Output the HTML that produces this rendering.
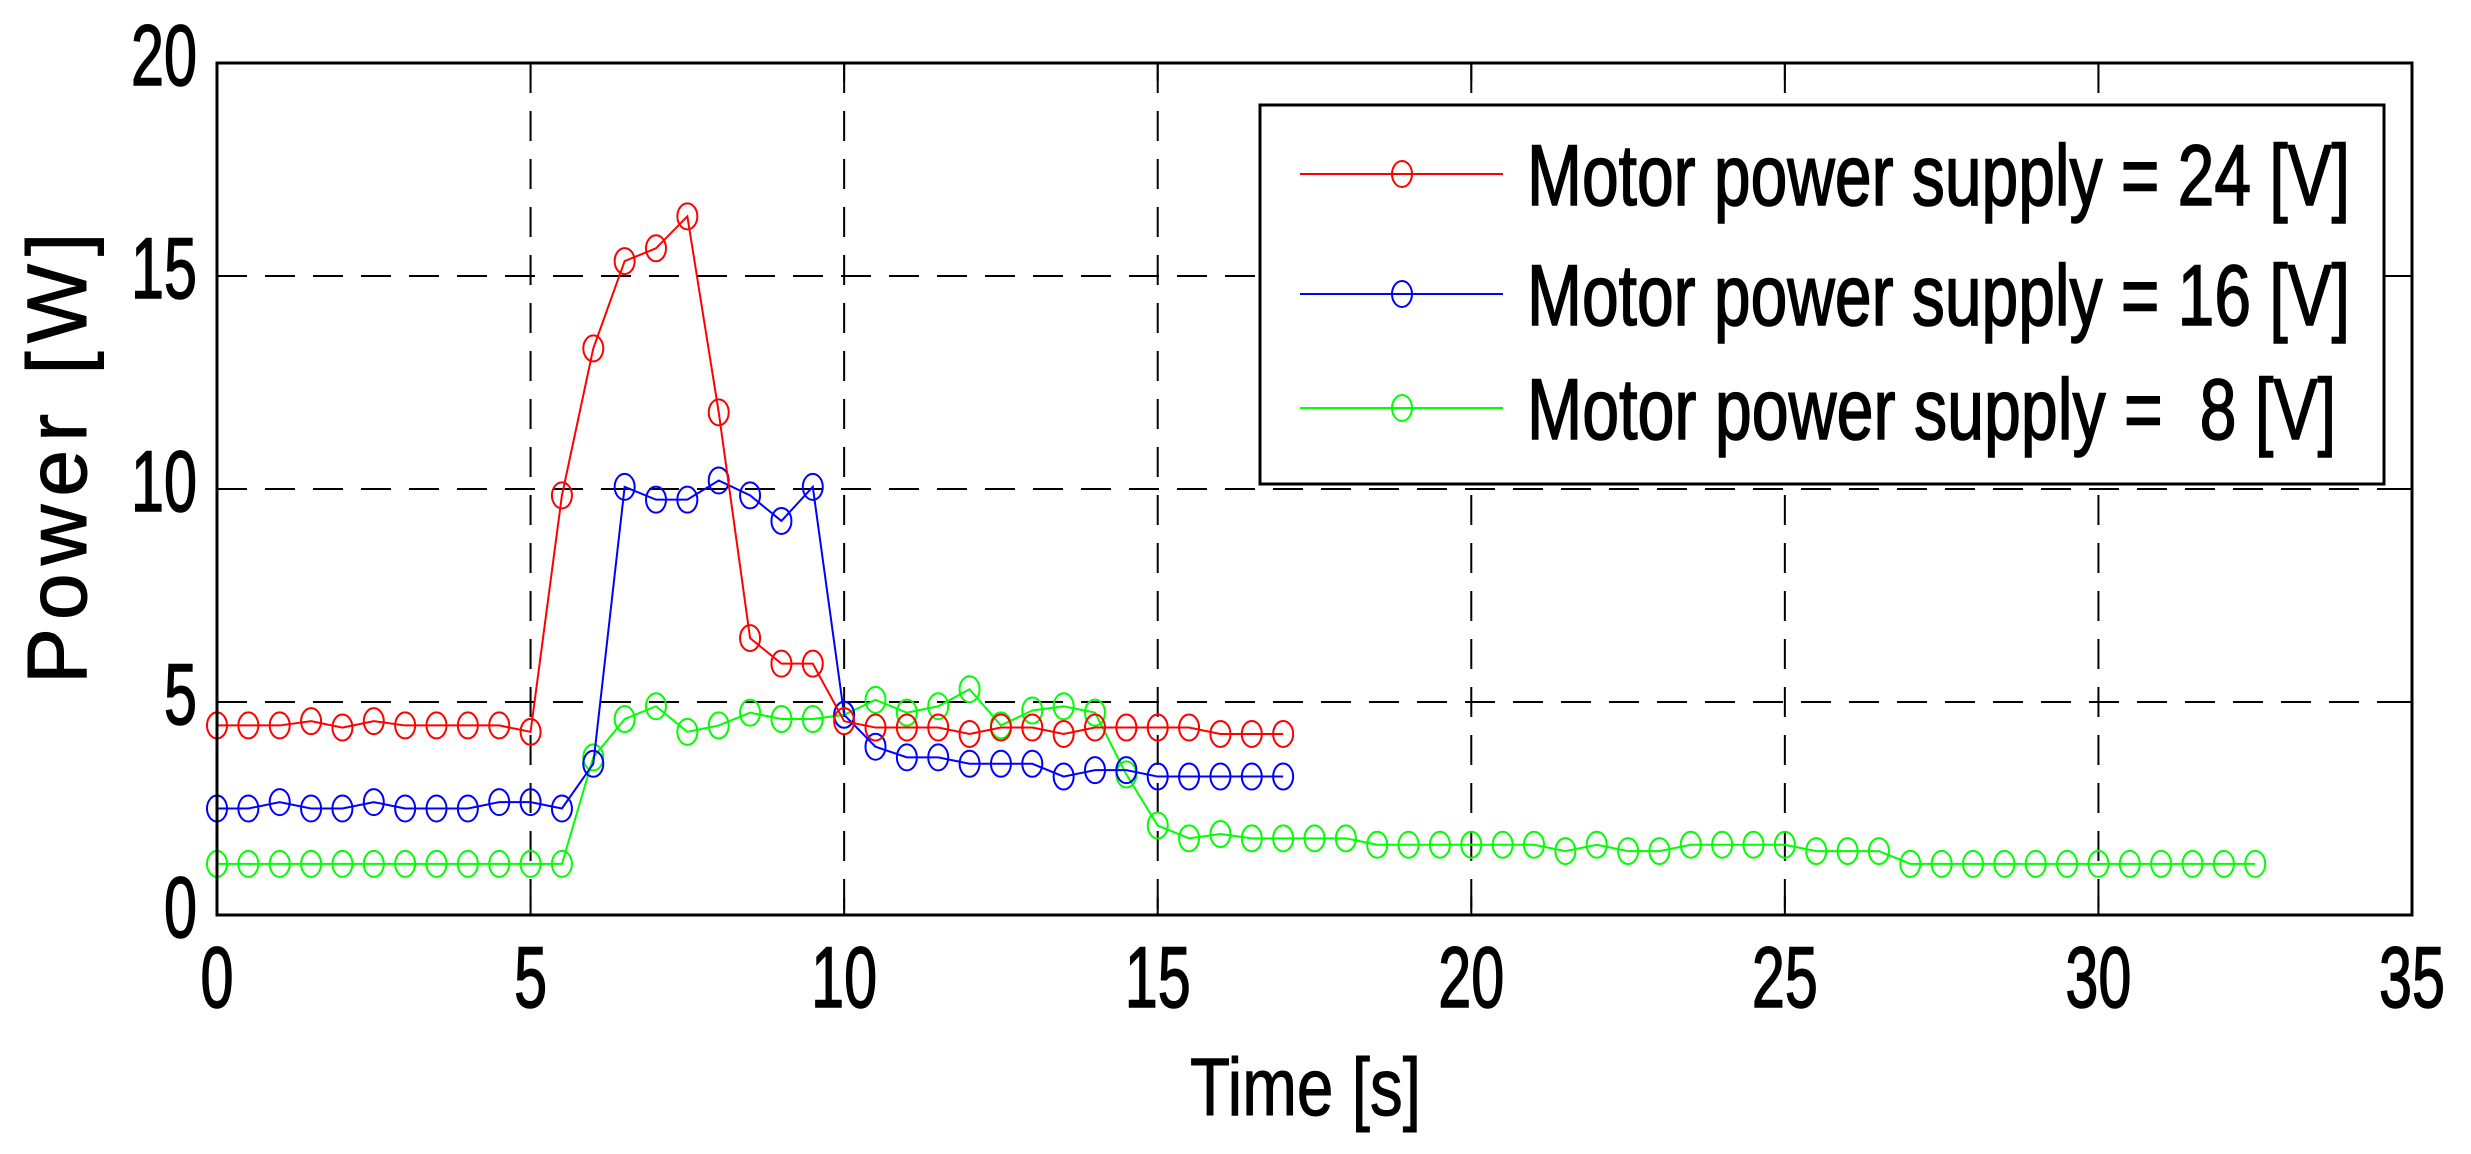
<!DOCTYPE html>
<html><head><meta charset="utf-8"><style>html,body{margin:0;padding:0;background:#fff}svg{display:block}</style></head>
<body>
<svg id="s" width="2471" height="1154" xmlns="http://www.w3.org/2000/svg" font-family="'Liberation Sans', Arial, sans-serif">
<rect width="2471" height="1154" fill="#fff"/>
<g id="grid" stroke="#000" stroke-width="2" stroke-dasharray="30,18" fill="none"></g>
<g id="series" fill="none" stroke-width="2"></g>
<rect x="217" y="63" width="2195" height="852" fill="none" stroke="#000" stroke-width="3"/>
<g id="ticks" stroke="#000" stroke-width="2"></g>
<g id="labels" font-size="86" fill="#000" stroke="#000" stroke-width="1.5"></g>
<text x="1190" y="1115" font-size="82" stroke="#000" stroke-width="1" textLength="231" lengthAdjust="spacingAndGlyphs">Time [s]</text>
<text transform="translate(86,684) rotate(-90)" font-size="84" stroke="#000" stroke-width="1" letter-spacing="8">Power [W]</text>
<g id="legend">
<rect x="1260" y="105" width="1124" height="379" fill="#fff" stroke="#000" stroke-width="3"/>
<line x1="1300" y1="174" x2="1503" y2="174" stroke="#f00" stroke-width="2"/>
<ellipse cx="1402" cy="174" rx="10" ry="13" fill="none" stroke="#f00" stroke-width="2"/>
<line x1="1300" y1="294" x2="1503" y2="294" stroke="#00f" stroke-width="2"/>
<ellipse cx="1402" cy="294" rx="10" ry="13" fill="none" stroke="#00f" stroke-width="2"/>
<line x1="1300" y1="408" x2="1503" y2="408" stroke="#0f0" stroke-width="2"/>
<ellipse cx="1402" cy="408" rx="10" ry="13" fill="none" stroke="#0f0" stroke-width="2"/>
<g stroke="#000" stroke-width="1.5">
<text x="1527" y="205" font-size="86" textLength="823" lengthAdjust="spacingAndGlyphs">Motor power supply = 24 [V]</text>
<text x="1527" y="325" font-size="86" textLength="823" lengthAdjust="spacingAndGlyphs">Motor power supply = 16 [V]</text>
<text x="1527" y="439" font-size="86" textLength="809" lengthAdjust="spacingAndGlyphs" xml:space="preserve">Motor power supply =  8 [V]</text>
</g>
</g>
</svg>
<script>
const NS="http://www.w3.org/2000/svg";
const X=v=>217+v*2195/35, Y=v=>915-v*42.6;
function el(p,t,a,txt){const e=document.createElementNS(NS,t);for(const k in a)e.setAttribute(k,a[k]);if(txt!==undefined)e.textContent=txt;p.appendChild(e);return e;}
const g=document.getElementById('grid'),tk=document.getElementById('ticks'),lb=document.getElementById('labels');
for(let i=5;i<=30;i+=5){el(g,'line',{x1:X(i),y1:63,x2:X(i),y2:915});}
for(let i=5;i<=15;i+=5){el(g,'line',{x1:217,y1:Y(i),x2:2412,y2:Y(i)});}
for(let i=0;i<=35;i+=5){el(tk,'line',{x1:X(i),y1:915,x2:X(i),y2:897});el(tk,'line',{x1:X(i),y1:63,x2:X(i),y2:81});
 const s=String(i);el(lb,'text',{x:X(i),y:1007,'text-anchor':'middle',textLength:s.length*33,lengthAdjust:'spacingAndGlyphs'},s);}
for(let i=0;i<=20;i+=5){el(tk,'line',{x1:217,y1:Y(i),x2:235,y2:Y(i)});el(tk,'line',{x1:2412,y1:Y(i),x2:2394,y2:Y(i)});
 const s=String(i);el(lb,'text',{x:197,y:Y(i)+22,'text-anchor':'end',textLength:s.length*33,lengthAdjust:'spacingAndGlyphs'},s);}
const red=[4.45,4.45,4.45,4.55,4.4,4.55,4.45,4.45,4.45,4.45,4.3,9.85,13.3,15.35,15.65,16.4,11.8,6.5,5.9,5.9,4.55,4.4,4.4,4.4,4.25,4.4,4.4,4.25,4.4,4.4,4.4,4.4,4.25,4.25,4.25];
const blue=[2.5,2.5,2.65,2.5,2.5,2.65,2.5,2.5,2.5,2.65,2.65,2.5,3.55,10.05,9.75,9.75,10.2,9.85,9.25,10.05,4.7,3.95,3.7,3.7,3.55,3.55,3.55,3.25,3.4,3.4,3.25,3.25,3.25,3.25,3.25];
const green=[1.2,1.2,1.2,1.2,1.2,1.2,1.2,1.2,1.2,1.2,1.2,1.2,3.7,4.6,4.9,4.3,4.45,4.75,4.6,4.6,4.7,5.05,4.75,4.9,5.3,4.45,4.8,4.9,4.75,3.3,2.1,1.8,1.9,1.8,1.8,1.8,1.8,1.65,1.65,1.65,1.65,1.65,1.65,1.5,1.65,1.5,1.5,1.65,1.65,1.65,1.65,1.5,1.5,1.5,1.2,1.2,1.2,1.2,1.2,1.2,1.2,1.2,1.2,1.2,1.2,1.2];
const sg=document.getElementById('series');
[[green,'#0f0'],[blue,'#00f'],[red,'#f00']].forEach(([d,c])=>{
 el(sg,'polyline',{points:d.map((v,i)=>X(i*0.5)+','+Y(v)).join(' '),stroke:c});
 d.forEach((v,i)=>el(sg,'ellipse',{cx:X(i*0.5),cy:Y(v),rx:10,ry:13,stroke:c}));
});
</script>
</body></html>
